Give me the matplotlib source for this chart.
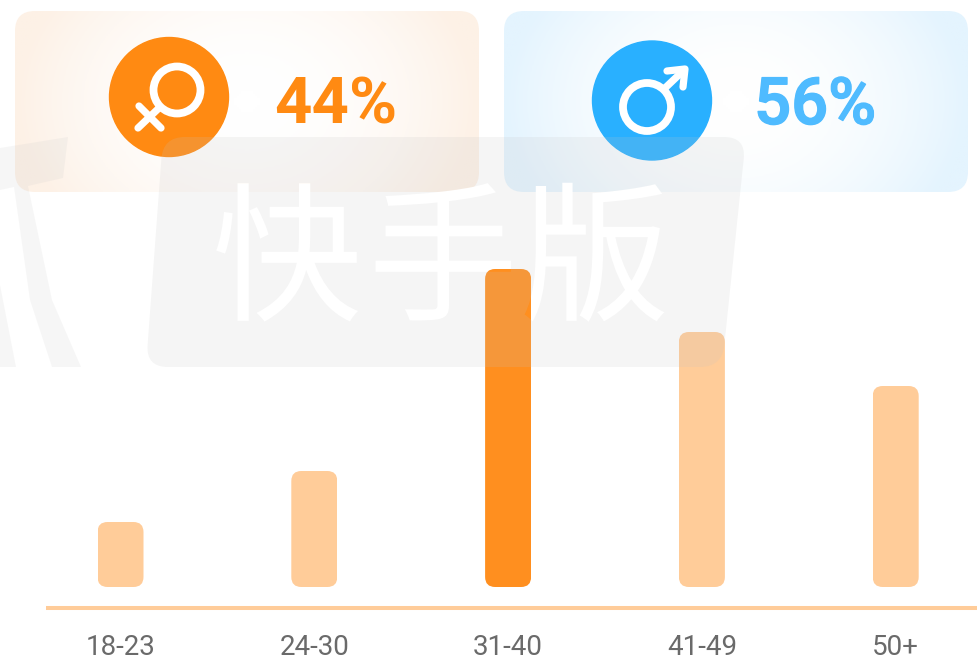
import numpy as np
import matplotlib.pyplot as plt
import matplotlib.patheffects as pe
from matplotlib.colors import LinearSegmentedColormap
from matplotlib.font_manager import FontProperties
from matplotlib.patches import Circle, FancyBboxPatch, PathPatch, Polygon
from matplotlib.path import Path
from matplotlib.textpath import TextPath
from matplotlib.transforms import Affine2D

plt.rcParams['font.family'] = ['Roboto', 'Noto Sans CJK SC', 'DejaVu Sans']

age_groups = ['18-23', '24-30', '31-40', '41-49', '50+']
age_values = [65, 116, 318, 255, 201]
highlight = '31-40'
gender_shares = ['44%', '56%']
watermark_chars = ['快', '手', '版']

W, H = 978, 657
fig = plt.figure(figsize=(W / 100, H / 100), dpi=100)


def px_axes(zorder):
    a = fig.add_axes([0, 0, 1, 1], zorder=zorder)
    a.set_xlim(0, W)
    a.set_ylim(H, 0)
    a.axis('off')
    a.patch.set_alpha(0)
    return a


def card(a, x0, y0, x1, y1, edge):
    # soft glow in the middle, tinted towards the edges
    cmap = LinearSegmentedColormap.from_list('c', ['#ffffff', edge])
    xx, yy = np.meshgrid(np.linspace(-1, 1, 200), np.linspace(-1, 1, 80))
    glow = np.clip(np.sqrt(xx ** 2 + yy ** 2 * 0.25), 0, 1) ** 2
    im = a.imshow(glow, extent=(x0, x1, y1, y0), cmap=cmap, vmin=0, vmax=1, aspect='auto', zorder=1)
    box = FancyBboxPatch((x0, y0), x1 - x0, y1 - y0, boxstyle='round,pad=0,rounding_size=20',
                         facecolor='none', edgecolor='none', transform=a.transData)
    a.add_patch(box)
    im.set_clip_path(box)


def rounded_poly(corners, r):
    verts, codes = [], []
    n = len(corners)
    for i in range(n):
        p = np.array(corners[i], float)
        prev = np.array(corners[i - 1], float)
        nxt = np.array(corners[(i + 1) % n], float)
        a = p + (prev - p) / np.linalg.norm(prev - p) * r
        b = p + (nxt - p) / np.linalg.norm(nxt - p) * r
        verts += [a, p, b]
        codes += [Path.MOVETO if i == 0 else Path.LINETO, Path.CURVE3, Path.CURVE3]
    verts.append(verts[0])
    codes.append(Path.CLOSEPOLY)
    return Path(verts, codes)


back = px_axes(0)
card(back, 15, 11, 479, 192, '#fdf1e6')
card(back, 504, 11, 968, 192, '#e4f4fe')
back.set_xlim(0, W)
back.set_ylim(H, 0)

# female icon
back.add_patch(Circle((169, 97), 59.5, color='#ff8a12', zorder=2))
back.add_patch(Circle((177, 90), 23.5, fill=False, ec='white', lw=5.6, zorder=3))
back.plot([139, 161], [106, 128], color='white', lw=5.2, solid_capstyle='round', zorder=3)
back.plot([138, 159], [128, 108], color='white', lw=5.2, solid_capstyle='round', zorder=3)

# male icon
back.add_patch(Circle((652, 100.5), 59.5, color='#29b0ff', zorder=2))
back.add_patch(Circle((647, 107), 24, fill=False, ec='white', lw=5.6, zorder=3))
back.plot([664, 684], [89, 70], color='white', lw=5.2, solid_capstyle='round', zorder=3)
back.plot([667, 685, 683], [71, 69, 87], color='white', lw=5.2, solid_capstyle='round',
          solid_joinstyle='round', zorder=3)

back.text(336, 106, gender_shares[0], color='#ff8a12', fontsize=47, fontweight='bold',
          ha='center', va='center', zorder=3)
back.text(815, 106, gender_shares[1], color='#4fbbff', fontsize=47, fontweight='medium',
          ha='center', va='center', zorder=3,
          path_effects=[pe.withStroke(linewidth=1.0, foreground='#4fbbff')])

# watermark letters: real text under the bars, holes in the grey box above them
wm_font = FontProperties(family='Noto Sans CJK SC', weight='medium')
wm_x = [212, 368, 520]
wm_base = 309
holes = []
for ch, cx in zip(watermark_chars, wm_x):
    back.text(cx, wm_base, ch, color='white', fontproperties=wm_font, fontsize=108,
              ha='left', va='baseline', zorder=4)
    tp = TextPath((0, 0), ch, size=150, prop=wm_font)
    holes.append(tp.transformed(Affine2D().scale(1, -1).translate(cx, wm_base)))

# bars, one y unit is one pixel
left, bottom = 46, 608
ax = fig.add_axes([left / W, (H - bottom) / H, (W - left) / W, bottom / H], zorder=1)
ax.patch.set_alpha(0)
step = 193.8
first = 120.5
ax.set_xlim(-(first - left) / step, (W - first) / step)
ax.set_ylim(-21, 587)
x = np.arange(len(age_groups))
colors = ['#ff8f1f' if g == highlight else '#ffcc99' for g in age_groups]
bar_w = 46 / step
bars = ax.bar(x, age_values, width=bar_w, color=colors)
for rect in bars:
    clip = FancyBboxPatch((rect.get_x(), 0), bar_w, rect.get_height(),
                          boxstyle='round,pad=0,rounding_size=%f' % (10 / step),
                          mutation_aspect=step, facecolor='none', edgecolor='none',
                          transform=ax.transData)
    ax.add_patch(clip)
    rect.set_clip_path(clip)
for s in ['top', 'left', 'right']:
    ax.spines[s].set_visible(False)
ax.spines['bottom'].set_color('#ffcc99')
ax.spines['bottom'].set_linewidth(2.9)
ax.spines['bottom'].set_capstyle('butt')
ax.set_yticks([])
ax.set_xticks(x)
ax.set_xticklabels(age_groups, fontsize=20, color='#6a6a6a')
ax.tick_params(axis='x', length=0, pad=19)

# watermark sits on top of everything
front = px_axes(2)
wm = '#c4c4c4'
box_path = rounded_poly([(163, 137), (746, 137), (722, 367), (146, 367)], 22)
front.add_patch(PathPatch(Path.make_compound_path(box_path, *holes), fc=wm, ec='none', alpha=0.17, zorder=1))
front.add_patch(Polygon([(0, 148), (68, 137), (63, 178), (28, 186), (52, 300), (81, 367), (52, 367),
                         (30, 300), (14, 187), (0, 190)], closed=True, fc=wm, ec='none',
                        alpha=0.14, zorder=1))
front.add_patch(Polygon([(0, 285), (16, 367), (0, 367)], closed=True, fc=wm, ec='none',
                        alpha=0.14, zorder=1))

fig.savefig('out.png', dpi=100)
